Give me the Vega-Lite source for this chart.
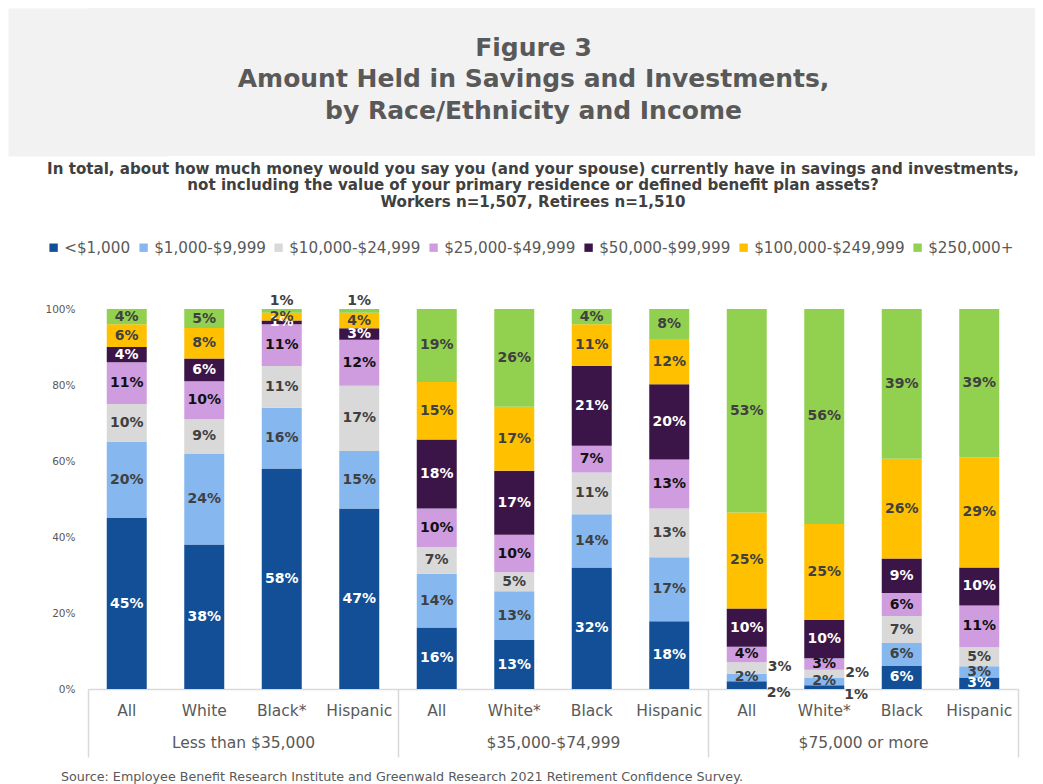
{
  "$schema": "https://vega.github.io/schema/vega-lite/v6.json",
  "background": "white",
  "padding": {"left": 44, "top": 8, "right": 0, "bottom": 0},
  "spacing": 5,
  "resolve": {"legend": {"color": "independent"}},
  "title": {
    "text": "Source: Employee Benefit Research Institute and Greenwald Research 2021 Retirement Confidence Survey.",
    "orient": "bottom", "anchor": "start", "frame": "bounds",
    "font": "DejaVu Sans", "fontSize": 12.7, "fontWeight": "normal", "color": "#595959",
    "dx": 16, "offset": 13
  },
  "config": {
    "font": "DejaVu Sans",
    "view": {"stroke": null}
  },
  "vconcat": [
    {
      "width": 947,
      "height": 148,
      "view": {"fill": "#f2f2f2", "stroke": null},
      "data": {"values": [
        {"line": 1, "text": "Figure 3"},
        {"line": 2, "text": "Amount Held in Savings and Investments,"},
        {"line": 3, "text": "by Race/Ethnicity and Income"}
      ]},
      "mark": {"type": "text", "font": "DejaVu Sans", "fontSize": 25, "fontWeight": "bold", "color": "#595959", "baseline": "middle", "dx": -28},
      "encoding": {
        "y": {
          "field": "line", "type": "quantitative",
          "scale": {"domain": [-0.27, 4.43], "reverse": true, "zero": false, "nice": false},
          "axis": {"title": null, "labels": false, "ticks": false, "grid": false, "domain": true, "domainColor": "#f2f2f2", "domainWidth": 160, "domainCap": "butt"}
        },
        "text": {"field": "text", "type": "nominal"}
      }
    },
    {
      "width": 930,
      "height": 380,
      "title": {
        "text": [
          "In total, about how much money would you say you (and your spouse) currently have in savings and investments,",
          "not including the value of your primary residence or defined benefit plan assets?",
          "Workers n=1,507, Retirees n=1,510"
        ],
        "font": "DejaVu Sans", "fontSize": 15.1, "fontWeight": "bold", "color": "#404040",
        "lineHeight": 16.5, "anchor": "middle", "frame": "group", "dx": -20, "offset": 30
      },
      "data": {"values": [
        {"group": "Less than $35,000", "race": "All", "bar": "Less than $35,000|All", "amount": "<$1,000", "tier": 1, "share": 0.45},
        {"group": "Less than $35,000", "race": "All", "bar": "Less than $35,000|All", "amount": "$1,000-$9,999", "tier": 2, "share": 0.20},
        {"group": "Less than $35,000", "race": "All", "bar": "Less than $35,000|All", "amount": "$10,000-$24,999", "tier": 3, "share": 0.10},
        {"group": "Less than $35,000", "race": "All", "bar": "Less than $35,000|All", "amount": "$25,000-$49,999", "tier": 4, "share": 0.11},
        {"group": "Less than $35,000", "race": "All", "bar": "Less than $35,000|All", "amount": "$50,000-$99,999", "tier": 5, "share": 0.04},
        {"group": "Less than $35,000", "race": "All", "bar": "Less than $35,000|All", "amount": "$100,000-$249,999", "tier": 6, "share": 0.06},
        {"group": "Less than $35,000", "race": "All", "bar": "Less than $35,000|All", "amount": "$250,000+", "tier": 7, "share": 0.04},
        {"group": "Less than $35,000", "race": "White", "bar": "Less than $35,000|White", "amount": "<$1,000", "tier": 1, "share": 0.38},
        {"group": "Less than $35,000", "race": "White", "bar": "Less than $35,000|White", "amount": "$1,000-$9,999", "tier": 2, "share": 0.24},
        {"group": "Less than $35,000", "race": "White", "bar": "Less than $35,000|White", "amount": "$10,000-$24,999", "tier": 3, "share": 0.09},
        {"group": "Less than $35,000", "race": "White", "bar": "Less than $35,000|White", "amount": "$25,000-$49,999", "tier": 4, "share": 0.10},
        {"group": "Less than $35,000", "race": "White", "bar": "Less than $35,000|White", "amount": "$50,000-$99,999", "tier": 5, "share": 0.06},
        {"group": "Less than $35,000", "race": "White", "bar": "Less than $35,000|White", "amount": "$100,000-$249,999", "tier": 6, "share": 0.08},
        {"group": "Less than $35,000", "race": "White", "bar": "Less than $35,000|White", "amount": "$250,000+", "tier": 7, "share": 0.05},
        {"group": "Less than $35,000", "race": "Black*", "bar": "Less than $35,000|Black*", "amount": "<$1,000", "tier": 1, "share": 0.58},
        {"group": "Less than $35,000", "race": "Black*", "bar": "Less than $35,000|Black*", "amount": "$1,000-$9,999", "tier": 2, "share": 0.16},
        {"group": "Less than $35,000", "race": "Black*", "bar": "Less than $35,000|Black*", "amount": "$10,000-$24,999", "tier": 3, "share": 0.11},
        {"group": "Less than $35,000", "race": "Black*", "bar": "Less than $35,000|Black*", "amount": "$25,000-$49,999", "tier": 4, "share": 0.11},
        {"group": "Less than $35,000", "race": "Black*", "bar": "Less than $35,000|Black*", "amount": "$50,000-$99,999", "tier": 5, "share": 0.01},
        {"group": "Less than $35,000", "race": "Black*", "bar": "Less than $35,000|Black*", "amount": "$100,000-$249,999", "tier": 6, "share": 0.02},
        {"group": "Less than $35,000", "race": "Black*", "bar": "Less than $35,000|Black*", "amount": "$250,000+", "tier": 7, "share": 0.01},
        {"group": "Less than $35,000", "race": "Hispanic", "bar": "Less than $35,000|Hispanic", "amount": "<$1,000", "tier": 1, "share": 0.47},
        {"group": "Less than $35,000", "race": "Hispanic", "bar": "Less than $35,000|Hispanic", "amount": "$1,000-$9,999", "tier": 2, "share": 0.15},
        {"group": "Less than $35,000", "race": "Hispanic", "bar": "Less than $35,000|Hispanic", "amount": "$10,000-$24,999", "tier": 3, "share": 0.17},
        {"group": "Less than $35,000", "race": "Hispanic", "bar": "Less than $35,000|Hispanic", "amount": "$25,000-$49,999", "tier": 4, "share": 0.12},
        {"group": "Less than $35,000", "race": "Hispanic", "bar": "Less than $35,000|Hispanic", "amount": "$50,000-$99,999", "tier": 5, "share": 0.03},
        {"group": "Less than $35,000", "race": "Hispanic", "bar": "Less than $35,000|Hispanic", "amount": "$100,000-$249,999", "tier": 6, "share": 0.04},
        {"group": "Less than $35,000", "race": "Hispanic", "bar": "Less than $35,000|Hispanic", "amount": "$250,000+", "tier": 7, "share": 0.01},
        {"group": "$35,000-$74,999", "race": "All", "bar": "$35,000-$74,999|All", "amount": "<$1,000", "tier": 1, "share": 0.16},
        {"group": "$35,000-$74,999", "race": "All", "bar": "$35,000-$74,999|All", "amount": "$1,000-$9,999", "tier": 2, "share": 0.14},
        {"group": "$35,000-$74,999", "race": "All", "bar": "$35,000-$74,999|All", "amount": "$10,000-$24,999", "tier": 3, "share": 0.07},
        {"group": "$35,000-$74,999", "race": "All", "bar": "$35,000-$74,999|All", "amount": "$25,000-$49,999", "tier": 4, "share": 0.10},
        {"group": "$35,000-$74,999", "race": "All", "bar": "$35,000-$74,999|All", "amount": "$50,000-$99,999", "tier": 5, "share": 0.18},
        {"group": "$35,000-$74,999", "race": "All", "bar": "$35,000-$74,999|All", "amount": "$100,000-$249,999", "tier": 6, "share": 0.15},
        {"group": "$35,000-$74,999", "race": "All", "bar": "$35,000-$74,999|All", "amount": "$250,000+", "tier": 7, "share": 0.19},
        {"group": "$35,000-$74,999", "race": "White*", "bar": "$35,000-$74,999|White*", "amount": "<$1,000", "tier": 1, "share": 0.13},
        {"group": "$35,000-$74,999", "race": "White*", "bar": "$35,000-$74,999|White*", "amount": "$1,000-$9,999", "tier": 2, "share": 0.13},
        {"group": "$35,000-$74,999", "race": "White*", "bar": "$35,000-$74,999|White*", "amount": "$10,000-$24,999", "tier": 3, "share": 0.05},
        {"group": "$35,000-$74,999", "race": "White*", "bar": "$35,000-$74,999|White*", "amount": "$25,000-$49,999", "tier": 4, "share": 0.10},
        {"group": "$35,000-$74,999", "race": "White*", "bar": "$35,000-$74,999|White*", "amount": "$50,000-$99,999", "tier": 5, "share": 0.17},
        {"group": "$35,000-$74,999", "race": "White*", "bar": "$35,000-$74,999|White*", "amount": "$100,000-$249,999", "tier": 6, "share": 0.17},
        {"group": "$35,000-$74,999", "race": "White*", "bar": "$35,000-$74,999|White*", "amount": "$250,000+", "tier": 7, "share": 0.26},
        {"group": "$35,000-$74,999", "race": "Black", "bar": "$35,000-$74,999|Black", "amount": "<$1,000", "tier": 1, "share": 0.32},
        {"group": "$35,000-$74,999", "race": "Black", "bar": "$35,000-$74,999|Black", "amount": "$1,000-$9,999", "tier": 2, "share": 0.14},
        {"group": "$35,000-$74,999", "race": "Black", "bar": "$35,000-$74,999|Black", "amount": "$10,000-$24,999", "tier": 3, "share": 0.11},
        {"group": "$35,000-$74,999", "race": "Black", "bar": "$35,000-$74,999|Black", "amount": "$25,000-$49,999", "tier": 4, "share": 0.07},
        {"group": "$35,000-$74,999", "race": "Black", "bar": "$35,000-$74,999|Black", "amount": "$50,000-$99,999", "tier": 5, "share": 0.21},
        {"group": "$35,000-$74,999", "race": "Black", "bar": "$35,000-$74,999|Black", "amount": "$100,000-$249,999", "tier": 6, "share": 0.11},
        {"group": "$35,000-$74,999", "race": "Black", "bar": "$35,000-$74,999|Black", "amount": "$250,000+", "tier": 7, "share": 0.04},
        {"group": "$35,000-$74,999", "race": "Hispanic", "bar": "$35,000-$74,999|Hispanic", "amount": "<$1,000", "tier": 1, "share": 0.18},
        {"group": "$35,000-$74,999", "race": "Hispanic", "bar": "$35,000-$74,999|Hispanic", "amount": "$1,000-$9,999", "tier": 2, "share": 0.17},
        {"group": "$35,000-$74,999", "race": "Hispanic", "bar": "$35,000-$74,999|Hispanic", "amount": "$10,000-$24,999", "tier": 3, "share": 0.13},
        {"group": "$35,000-$74,999", "race": "Hispanic", "bar": "$35,000-$74,999|Hispanic", "amount": "$25,000-$49,999", "tier": 4, "share": 0.13},
        {"group": "$35,000-$74,999", "race": "Hispanic", "bar": "$35,000-$74,999|Hispanic", "amount": "$50,000-$99,999", "tier": 5, "share": 0.20},
        {"group": "$35,000-$74,999", "race": "Hispanic", "bar": "$35,000-$74,999|Hispanic", "amount": "$100,000-$249,999", "tier": 6, "share": 0.12},
        {"group": "$35,000-$74,999", "race": "Hispanic", "bar": "$35,000-$74,999|Hispanic", "amount": "$250,000+", "tier": 7, "share": 0.08},
        {"group": "$75,000 or more", "race": "All", "bar": "$75,000 or more|All", "amount": "<$1,000", "tier": 1, "share": 0.02},
        {"group": "$75,000 or more", "race": "All", "bar": "$75,000 or more|All", "amount": "$1,000-$9,999", "tier": 2, "share": 0.02},
        {"group": "$75,000 or more", "race": "All", "bar": "$75,000 or more|All", "amount": "$10,000-$24,999", "tier": 3, "share": 0.03},
        {"group": "$75,000 or more", "race": "All", "bar": "$75,000 or more|All", "amount": "$25,000-$49,999", "tier": 4, "share": 0.04},
        {"group": "$75,000 or more", "race": "All", "bar": "$75,000 or more|All", "amount": "$50,000-$99,999", "tier": 5, "share": 0.10},
        {"group": "$75,000 or more", "race": "All", "bar": "$75,000 or more|All", "amount": "$100,000-$249,999", "tier": 6, "share": 0.25},
        {"group": "$75,000 or more", "race": "All", "bar": "$75,000 or more|All", "amount": "$250,000+", "tier": 7, "share": 0.53},
        {"group": "$75,000 or more", "race": "White*", "bar": "$75,000 or more|White*", "amount": "<$1,000", "tier": 1, "share": 0.01},
        {"group": "$75,000 or more", "race": "White*", "bar": "$75,000 or more|White*", "amount": "$1,000-$9,999", "tier": 2, "share": 0.02},
        {"group": "$75,000 or more", "race": "White*", "bar": "$75,000 or more|White*", "amount": "$10,000-$24,999", "tier": 3, "share": 0.02},
        {"group": "$75,000 or more", "race": "White*", "bar": "$75,000 or more|White*", "amount": "$25,000-$49,999", "tier": 4, "share": 0.03},
        {"group": "$75,000 or more", "race": "White*", "bar": "$75,000 or more|White*", "amount": "$50,000-$99,999", "tier": 5, "share": 0.10},
        {"group": "$75,000 or more", "race": "White*", "bar": "$75,000 or more|White*", "amount": "$100,000-$249,999", "tier": 6, "share": 0.25},
        {"group": "$75,000 or more", "race": "White*", "bar": "$75,000 or more|White*", "amount": "$250,000+", "tier": 7, "share": 0.56},
        {"group": "$75,000 or more", "race": "Black", "bar": "$75,000 or more|Black", "amount": "<$1,000", "tier": 1, "share": 0.06},
        {"group": "$75,000 or more", "race": "Black", "bar": "$75,000 or more|Black", "amount": "$1,000-$9,999", "tier": 2, "share": 0.06},
        {"group": "$75,000 or more", "race": "Black", "bar": "$75,000 or more|Black", "amount": "$10,000-$24,999", "tier": 3, "share": 0.07},
        {"group": "$75,000 or more", "race": "Black", "bar": "$75,000 or more|Black", "amount": "$25,000-$49,999", "tier": 4, "share": 0.06},
        {"group": "$75,000 or more", "race": "Black", "bar": "$75,000 or more|Black", "amount": "$50,000-$99,999", "tier": 5, "share": 0.09},
        {"group": "$75,000 or more", "race": "Black", "bar": "$75,000 or more|Black", "amount": "$100,000-$249,999", "tier": 6, "share": 0.26},
        {"group": "$75,000 or more", "race": "Black", "bar": "$75,000 or more|Black", "amount": "$250,000+", "tier": 7, "share": 0.39},
        {"group": "$75,000 or more", "race": "Hispanic", "bar": "$75,000 or more|Hispanic", "amount": "<$1,000", "tier": 1, "share": 0.03},
        {"group": "$75,000 or more", "race": "Hispanic", "bar": "$75,000 or more|Hispanic", "amount": "$1,000-$9,999", "tier": 2, "share": 0.03},
        {"group": "$75,000 or more", "race": "Hispanic", "bar": "$75,000 or more|Hispanic", "amount": "$10,000-$24,999", "tier": 3, "share": 0.05},
        {"group": "$75,000 or more", "race": "Hispanic", "bar": "$75,000 or more|Hispanic", "amount": "$25,000-$49,999", "tier": 4, "share": 0.11},
        {"group": "$75,000 or more", "race": "Hispanic", "bar": "$75,000 or more|Hispanic", "amount": "$50,000-$99,999", "tier": 5, "share": 0.10},
        {"group": "$75,000 or more", "race": "Hispanic", "bar": "$75,000 or more|Hispanic", "amount": "$100,000-$249,999", "tier": 6, "share": 0.29},
        {"group": "$75,000 or more", "race": "Hispanic", "bar": "$75,000 or more|Hispanic", "amount": "$250,000+", "tier": 7, "share": 0.39}
      ]},
      "layer": [
        {
          "encoding": {
            "x": {
              "field": "bar", "type": "nominal", "sort": null, "title": null,
              "scale": {"paddingInner": 0.484, "paddingOuter": 0.242},
              "axis": {
                "orient": "bottom", "labelExpr": "split(datum.label, '|')[1]", "labelAngle": 0,
                "ticks": false, "labelPadding": 14, "domainColor": "#d9d9d9", "domainWidth": 1.5,
                "labelFont": "DejaVu Sans", "labelFontSize": 15.5, "labelColor": "#595959"
              }
            },
            "order": {"field": "tier", "type": "quantitative"}
          },
          "layer": [
            {
              "mark": {"type": "bar"},
              "encoding": {
                "y": {
                  "field": "share", "type": "quantitative", "stack": "normalize", "title": null,
                  "scale": {"domain": [0, 1]},
                  "axis": {
                    "format": ".0%", "values": [0, 0.1, 0.2, 0.3, 0.4, 0.5, 0.6, 0.7, 0.8, 0.9, 1],
                    "grid": false, "domain": false, "ticks": false, "labelPadding": 13,
                    "labelFont": "DejaVu Sans", "labelFontSize": 10.5, "labelColor": "#595959"
                  }
                },
                "color": {
                  "field": "amount", "type": "nominal",
                  "scale": {
                    "domain": ["<$1,000", "$1,000-$9,999", "$10,000-$24,999", "$25,000-$49,999", "$50,000-$99,999", "$100,000-$249,999", "$250,000+"],
                    "range": ["#124f96", "#86b8ef", "#d9d9d9", "#cf9ddf", "#3b1547", "#ffc000", "#92d050"]
                  },
                  "legend": {
                    "title": null, "orient": "none", "direction": "horizontal", "legendX": -42, "legendY": -69,
                    "symbolType": "square", "symbolSize": 70, "symbolStrokeWidth": 0,
                    "labelFont": "DejaVu Sans", "labelFontSize": 15.2, "labelColor": "#595959",
                    "labelOffset": 3, "columnPadding": 5
                  }
                }
              }
            },
            {
              "encoding": {
                "y": {"field": "share", "type": "quantitative", "stack": "normalize", "bandPosition": 0.5, "title": null},
                "text": {"field": "share", "type": "quantitative", "format": ".0%"},
                "color": {
                  "condition": [
                    {"test": "datum.tier == 1 || datum.tier == 5", "value": "#ffffff"},
                    {"test": "datum.tier == 4", "value": "#111111"}
                  ],
                  "value": "#404040"
                }
              },
              "layer": [
                {
                  "mark": {"type": "text", "font": "DejaVu Sans", "fontSize": 14, "fontWeight": "bold", "baseline": "middle"},
                  "encoding": {
                    "opacity": {
                      "condition": {"test": "(datum.group == 'Less than $35,000' && datum.tier == 7 && (datum.race == 'Black*' || datum.race == 'Hispanic')) || (datum.group == '$75,000 or more' && (datum.race == 'All' || datum.race == 'White*') && (datum.tier == 1 || datum.tier == 3))", "value": 0},
                      "value": 1
                    }
                  }
                },
                {
                  "mark": {"type": "text", "font": "DejaVu Sans", "fontSize": 14, "fontWeight": "bold", "baseline": "middle", "dy": -10},
                  "encoding": {
                    "opacity": {
                      "condition": {"test": "datum.group == 'Less than $35,000' && datum.tier == 7 && (datum.race == 'Black*' || datum.race == 'Hispanic')", "value": 1},
                      "value": 0
                    }
                  }
                },
                {
                  "mark": {"type": "text", "font": "DejaVu Sans", "fontSize": 14, "fontWeight": "bold", "baseline": "middle", "dx": 32, "dy": 8},
                  "encoding": {
                    "color": {"value": "#404040"},
                    "opacity": {
                      "condition": {"test": "datum.group == '$75,000 or more' && (datum.race == 'All' || datum.race == 'White*') && datum.tier == 1", "value": 1},
                      "value": 0
                    }
                  }
                },
                {
                  "mark": {"type": "text", "font": "DejaVu Sans", "fontSize": 14, "fontWeight": "bold", "baseline": "middle", "dx": 33, "dy": -1},
                  "encoding": {
                    "opacity": {
                      "condition": {"test": "datum.group == '$75,000 or more' && (datum.race == 'All' || datum.race == 'White*') && datum.tier == 3", "value": 1},
                      "value": 0
                    }
                  }
                }
              ]
            }
          ]
        },
        {
          "mark": {"type": "rule", "opacity": 0},
          "encoding": {
            "x": {
              "field": "group", "type": "nominal", "sort": null, "title": null,
              "scale": {"paddingInner": 0, "paddingOuter": 0},
              "axis": {
                "orient": "bottom", "domain": false, "tickBand": "extent", "tickSize": 68,
                "tickColor": "#d9d9d9", "tickWidth": 1.5, "labelPadding": -22, "labelAngle": 0,
                "labelFont": "DejaVu Sans", "labelFontSize": 15.5, "labelColor": "#595959"
              }
            }
          }
        }
      ],
      "resolve": {"scale": {"x": "independent"}}
    }
  ]
}
